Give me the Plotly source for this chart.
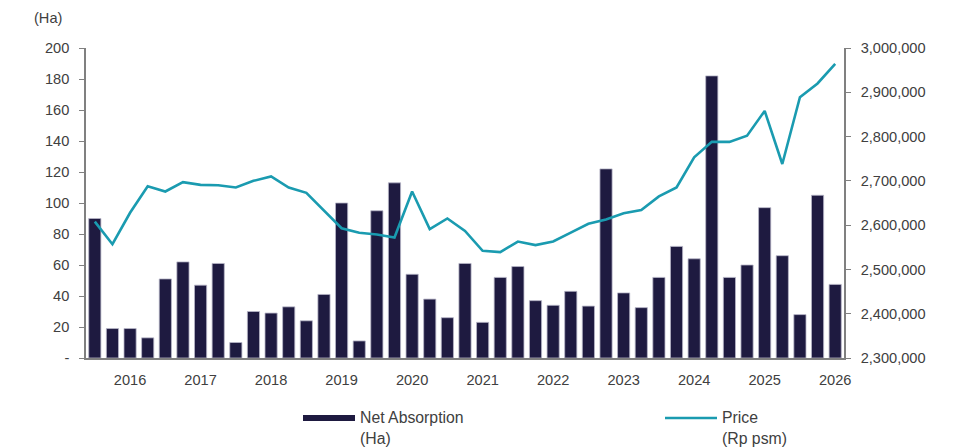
import plotly.graph_objects as go

# ---- data ----
quarters = list(range(43))
net_absorption = [90, 19, 19, 13, 51, 62, 47, 61, 10, 30, 29, 33, 24, 41, 100, 11, 95, 113,
                  54, 38, 26, 61, 23, 52, 59, 37, 34, 43, 33.5, 122, 42, 32.5, 52, 72, 64, 182,
                  52, 60, 97, 66, 28, 105, 47.5]
price = [2608000, 2557000, 2628000, 2688000, 2676000, 2697000, 2691000, 2690000, 2685000,
         2700000, 2710000, 2685000, 2673000, 2634000, 2593000, 2583000, 2579000, 2572000,
         2676000, 2591000, 2615000, 2587000, 2542000, 2539000, 2563000, 2555000, 2563000,
         2583000, 2603000, 2613000, 2627000, 2634000, 2665000, 2685000, 2753000, 2788000,
         2788000, 2802000, 2858000, 2738000, 2889000, 2920000, 2964000]
year_ticks = [2, 6, 10, 14, 18, 22, 26, 30, 34, 38, 42]
year_labels = ["2016", "2017", "2018", "2019", "2020", "2021", "2022", "2023", "2024", "2025", "2026"]
left_ticks = [0, 20, 40, 60, 80, 100, 120, 140, 160, 180, 200]
left_labels = ["-", "20", "40", "60", "80", "100", "120", "140", "160", "180", "200"]
right_ticks = [2300000, 2400000, 2500000, 2600000, 2700000, 2800000, 2900000, 3000000]

BAR = "#1e1a40"
LINE = "#1a9bb0"
AX = "#808080"
TXT = "#404040"
FONT = "Liberation Sans, Arial, sans-serif"
TS = 14.6
LS = 15.8

fig = go.Figure()
fig.add_trace(go.Bar(x=quarters, y=net_absorption, name="Net Absorption (Ha)",
                     marker=dict(color=BAR, line=dict(color="#b8b6c8", width=0.8)),
                     yaxis="y"))
fig.add_trace(go.Scatter(x=quarters, y=price, name="Price (Rp psm)", mode="lines",
                         line=dict(color=LINE, width=2.6), yaxis="y2"))

axis_common = dict(showgrid=False, zeroline=False, showline=True, linecolor=AX, linewidth=1.5,
                   ticks="outside", ticklen=5, tickcolor=AX, tickwidth=1.2,
                   tickfont=dict(family=FONT, size=TS, color=TXT))

fig.update_layout(
    width=961, height=448,
    margin=dict(l=86, r=117, t=48, b=90),
    paper_bgcolor="white", plot_bgcolor="white",
    showlegend=False, bargap=0.31,
    font=dict(family=FONT, color=TXT),
    xaxis=dict(range=[-0.5, 42.5], tickvals=year_ticks, ticktext=year_labels,
               showgrid=False, zeroline=False, showline=True, linecolor=AX, linewidth=1.5,
               ticks="", ticklabelstandoff=8, tickfont=dict(family=FONT, size=TS, color=TXT)),
    yaxis=dict(range=[0, 200], tickvals=left_ticks, ticktext=left_labels, ticklabelstandoff=7,
               **axis_common),
    yaxis2=dict(range=[2300000, 3000000], tickvals=right_ticks, tickformat=",d",
                overlaying="y", side="right", ticklabelstandoff=7, **axis_common),
)

# manual legend
fig.add_shape(type="rect", xref="paper", yref="paper",
              x0=(303 - 86) / 758, x1=(355 - 86) / 758,
              y0=(358 - 421) / 310, y1=(358 - 415) / 310,
              fillcolor=BAR, line=dict(width=0))
fig.add_shape(type="line", xref="paper", yref="paper",
              x0=(665 - 86) / 758, x1=(717 - 86) / 758,
              y0=(358 - 418) / 310, y1=(358 - 418) / 310,
              line=dict(color=LINE, width=2.6))
fig.add_annotation(xref="paper", yref="paper", x=(358 - 86) / 758, y=(358 - 407) / 310,
                   text="Net Absorption<br>(Ha)", showarrow=False, xanchor="left", yanchor="top",
                   align="left", font=dict(family=FONT, size=LS, color=TXT))
fig.add_annotation(xref="paper", yref="paper", x=(720 - 86) / 758, y=(358 - 407) / 310,
                   text="Price<br>(Rp psm)", showarrow=False, xanchor="left", yanchor="top",
                   align="left", font=dict(family=FONT, size=LS, color=TXT))
fig.add_annotation(xref="paper", yref="paper", x=(32 - 86) / 758, y=(358 - 8) / 310,
                   text="(Ha)", showarrow=False, xanchor="left", yanchor="top",
                   font=dict(family=FONT, size=TS, color=TXT))

fig.write_html("out.html")
